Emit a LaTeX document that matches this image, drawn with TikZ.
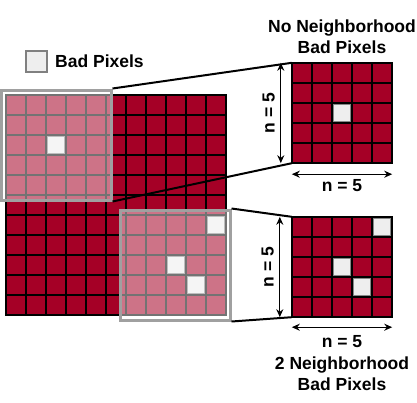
\documentclass[tikz,border=0pt]{standalone}
\usepackage{fontspec}
\setmainfont{Liberation Sans}
\usepackage{tikz}
\usetikzlibrary{positioning,arrows.meta}
\definecolor{PixelRed}{HTML}{A50026}
\definecolor{BadGray}{HTML}{EEEEEE}
\definecolor{EdgeGray}{HTML}{888888}
\definecolor{LensGray}{HTML}{A0A0A0}
\tikzset{
  cellline/.style={black,line width=2pt,line cap=rect},
  badpixel/.style={draw=EdgeGray,line width=1.2pt,fill=BadGray},
  lens/.style={draw=LensGray,line width=3pt,fill=white,fill opacity=0.45,inner sep=0pt,minimum size=110pt},
  zoomline/.style={black,line width=2pt},
  dimarrow/.style={black,line width=1.3pt,{Stealth[length=8pt,width=7pt]}-{Stealth[length=8pt,width=7pt]}},
  titletext/.style={font=\bfseries\fontsize{17.5pt}{20.5pt}\selectfont,align=center,inner sep=0pt}
}

\begin{document}
\begin{tikzpicture}[x=1pt,y=-1pt]
  \useasboundingbox (0,0) rectangle (417,402);
  % legend
  \node[badpixel,draw=gray,line width=2pt,minimum size=21pt,inner sep=0pt] (legendbox) at (36.5,61.5) {};
  \node[titletext,right=7pt of legendbox] (legendtext) {Bad Pixels};
  % full image
  \fill[PixelRed] (6,95) rectangle (226,315);
  \foreach \i in {0,...,11} {
    \draw[cellline] ({6+20*\i},95) -- ({6+20*\i},315);
    \draw[cellline] (6,{95+20*\i}) -- (226,{95+20*\i});
  }
  \foreach \c/\r in {2/2,10/6,8/8,9/9}
    \draw[badpixel] ({7.6+20*\c},{96.6+20*\r}) rectangle +(16.8,16.8);
  % zoomed windows
  \node[inner sep=0pt,minimum size=100pt,fill=PixelRed] (zoomA) at (342,113) {};
  \node[inner sep=0pt,minimum size=100pt,fill=PixelRed] (zoomB) at (342,267) {};
  \foreach \i in {0,...,5} {
    \draw[cellline] ({292+20*\i},63) -- ({292+20*\i},163);
    \draw[cellline] (292,{63+20*\i}) -- (392,{63+20*\i});
    \draw[cellline] ({292+20*\i},217) -- ({292+20*\i},317);
    \draw[cellline] (292,{217+20*\i}) -- (392,{217+20*\i});
  }
  \draw[badpixel] (333.6,104.6) rectangle +(16.8,16.8);
  \foreach \c/\r in {4/0,2/2,3/3}
    \draw[badpixel] ({293.6+20*\c},{218.6+20*\r}) rectangle +(16.8,16.8);
  % lenses
  \node[lens] (lensA) at (56,145) {};
  \node[lens] (lensB) at (175,265) {};
  \draw[zoomline] (lensA.north east) -- (zoomA.north west);
  \draw[zoomline] (lensA.south east) -- (zoomA.south west);
  \draw[zoomline] (lensB.north east) -- (zoomB.north west);
  \draw[zoomline] (lensB.south east) -- (zoomB.south west);
  % sizes
  \draw[dimarrow] ([xshift=-11pt]zoomA.north west) -- ([xshift=-11pt]zoomA.south west)
    node[titletext,midway,xshift=-12pt,rotate=90] (nsideA) {n = 5};
  \draw[dimarrow] ([yshift=-11pt]zoomA.south west) -- ([yshift=-11pt]zoomA.south east)
    node[titletext,midway,below=5pt] (nbaseA) {n = 5};
  \draw[dimarrow] ([xshift=-12pt]zoomB.north west) -- ([xshift=-12pt]zoomB.south west)
    node[titletext,midway,xshift=-12pt,rotate=90] (nsideB) {n = 5};
  \draw[dimarrow] ([yshift=-10pt]zoomB.south west) -- ([yshift=-10pt]zoomB.south east)
    node[titletext,midway,below=8pt] (nbaseB) {n = 5};
  % captions
  \node[titletext,above=9pt of zoomA] (titleA) {No Neighborhood\\Bad Pixels};
  \node[titletext,below=8pt of nbaseB] (titleB) {2 Neighborhood\\Bad Pixels};
\end{tikzpicture}
\end{document}
